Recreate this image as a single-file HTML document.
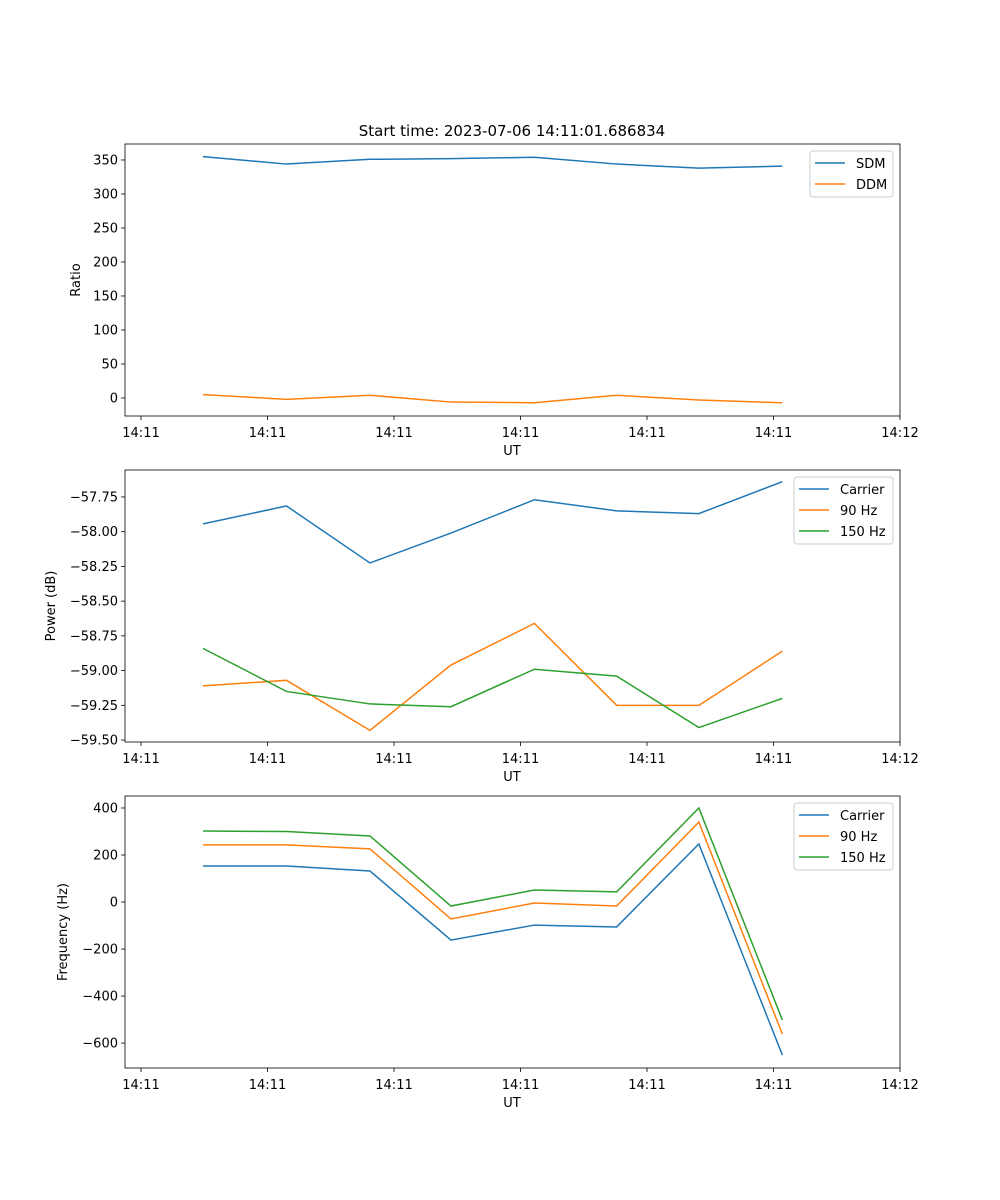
<!DOCTYPE html>
<html><head><meta charset="utf-8"><style>
body{margin:0;background:#fff}
svg{display:block;font-family:"DejaVu Sans","Liberation Sans",sans-serif}
</style></head><body>
<svg id="fig" width="1000" height="1200" xmlns="http://www.w3.org/2000/svg">
<rect width="1000" height="1200" fill="#fff"/>
<text x="512" y="136" font-size="15" text-anchor="middle">Start time: 2023-07-06 14:11:01.686834</text>
</svg>
<script>
// shared x data (time units, tick spacing = 1)
const xTickVals = [0,1,2,3,4,5,6];
const xTickLabels = ["14:11","14:11","14:11","14:11","14:11","14:11","14:12"];
const times = [0.49,1.15,1.81,2.45,3.11,3.76,4.41,5.07];
// panel 1
const sdm = [355,344,351,352,354,344,338,341];
const ddm = [5,-2,4,-6,-7,4,-3,-7];
const ratioTicks = [0,50,100,150,200,250,300,350];
// panel 2
const pwrCarrier = [-57.944,-57.815,-58.225,-58.01,-57.77,-57.85,-57.87,-57.64];
const pwr90 = [-59.11,-59.07,-59.43,-58.96,-58.66,-59.25,-59.25,-58.86];
const pwr150 = [-58.84,-59.15,-59.24,-59.26,-58.99,-59.04,-59.41,-59.20];
const pwrTicks = [-59.5,-59.25,-59.0,-58.75,-58.5,-58.25,-58.0,-57.75];
const pwrTickLabels = ["\u221259.50","\u221259.25","\u221259.00","\u221258.75","\u221258.50","\u221258.25","\u221258.00","\u221257.75"];
// panel 3
const frqCarrier = [153,153,132,-162,-98,-106,247,-651];
const frq90 = [243,243,226,-72,-4,-17,340,-562];
const frq150 = [302,300,281,-17,51,43,400,-502];
const frqTicks = [-600,-400,-200,0,200,400];

const NS="http://www.w3.org/2000/svg";
const svg=document.getElementById('fig');
const C=["#1f77b4","#ff7f0e","#2ca02c"];
function mk(tag,attrs,parent){const e=document.createElementNS(NS,tag);for(const k in attrs)e.setAttribute(k,attrs[k]);(parent||svg).appendChild(e);return e;}
const L=125,R=900,x0=141,xs=126.5;
function X(t){return x0+t*xs;}
function panel(name,top,bottom,ymin,ymax,yt,ytl,ylabel,ylabelX,series,names,legend){
  const g=mk('g',{});
  
  
  const Y=v=>bottom-(v-ymin)/(ymax-ymin)*(bottom-top);
  series.forEach((s,i)=>{
    const p=mk('polyline',{points:s.map((v,j)=>X(times[j])+','+Y(v)).join(' '),fill:'none',stroke:C[i],'stroke-width':1.5},g);
    
    
  });
  const f=mk('rect',{x:L,y:top,width:R-L,height:bottom-top,fill:'none',stroke:'#000','stroke-width':0.8},g);
  
  
  xTickVals.forEach((t,i)=>{
    mk('line',{x1:X(t),x2:X(t),y1:bottom,y2:bottom+4,stroke:'#000','stroke-width':0.8},g);
    const tx=mk('text',{x:X(t),y:bottom+21,'font-size':13,'text-anchor':'middle'},g);
    tx.textContent=xTickLabels[i];
    
    
  });
  yt.forEach((v,i)=>{
    mk('line',{x1:L-4,x2:L,y1:Y(v),y2:Y(v),stroke:'#000','stroke-width':0.8},g);
    const tx=mk('text',{x:L-7,y:Y(v)+4.5,'font-size':13,'text-anchor':'end'},g);
    tx.textContent=ytl?ytl[i]:(v<0?'\u2212'+(-v):String(v));
    
    
  });
  const xl=mk('text',{x:512,y:bottom+39,'font-size':13,'text-anchor':'middle'},g);
  xl.textContent='UT';
  
  
  const cy=(top+bottom)/2;
  const yl=mk('text',{x:ylabelX,y:cy,'font-size':13,'text-anchor':'middle',transform:'rotate(-90 '+ylabelX+' '+cy+')'},g);
  yl.textContent=ylabel;
  
  
  const lg=mk('g',{},g);
  
  
  mk('rect',{x:legend.x,y:top+7,width:legend.w,height:names.length*21+4,rx:3,fill:'#fff','fill-opacity':0.8,stroke:'#ccc'},lg);
  names.forEach((n,i)=>{
    const yy=top+19+i*21;
    mk('line',{x1:legend.x+5,x2:legend.x+35,y1:yy,y2:yy,stroke:C[i],'stroke-width':1.5},lg);
    const t=mk('text',{x:legend.x+46,y:yy+5,'font-size':13},lg);
    t.textContent=n;
    
    
  });
}
panel('ratio-panel',144,416,-26.5,373.5,ratioTicks,null,'Ratio',80,[sdm,ddm],['SDM','DDM'],{x:810,w:83});
panel('power-panel',470,742,-59.514,-57.556,pwrTicks,pwrTickLabels,'Power (dB)',55,[pwrCarrier,pwr90,pwr150],['Carrier','90 Hz','150 Hz'],{x:794,w:99});
panel('frequency-panel',796,1068,-706,451,frqTicks,null,'Frequency (Hz)',67,[frqCarrier,frq90,frq150],['Carrier','90 Hz','150 Hz'],{x:794,w:99});
</script>
</body></html>
